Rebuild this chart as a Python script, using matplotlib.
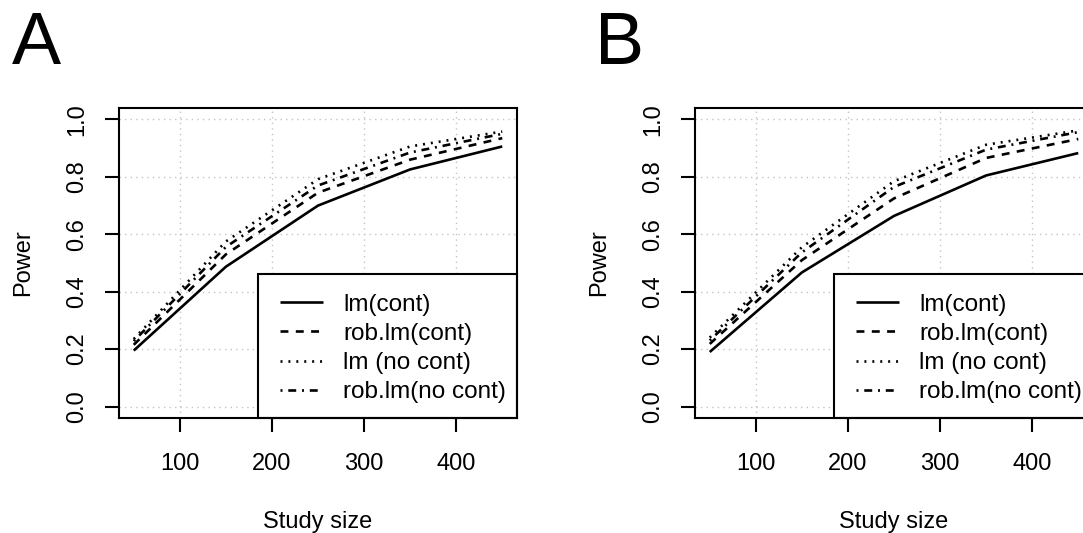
import matplotlib
matplotlib.use("Agg")
import matplotlib.pyplot as plt
from matplotlib.patches import Rectangle

plt.rcParams['font.family'] = ['Liberation Sans', 'DejaVu Sans']

study_size = [50, 150, 250, 350, 450]
series_labels = ["lm(cont)", "rob.lm(cont)", "lm (no cont)", "rob.lm(no cont)"]

# Panel A
a_lm_cont = [0.195, 0.487, 0.700, 0.826, 0.906]
a_rob_cont = [0.215, 0.530, 0.745, 0.860, 0.935]
a_lm_nocont = [0.235, 0.575, 0.792, 0.906, 0.958]
a_rob_nocont = [0.228, 0.556, 0.770, 0.885, 0.950]

# Panel B
b_lm_cont = [0.190, 0.467, 0.664, 0.805, 0.883]
b_rob_cont = [0.218, 0.510, 0.725, 0.866, 0.932]
b_lm_nocont = [0.240, 0.555, 0.785, 0.912, 0.962]
b_rob_nocont = [0.230, 0.537, 0.765, 0.895, 0.956]

x_ticks = [100, 200, 300, 400]
y_ticks = [0.0, 0.2, 0.4, 0.6, 0.8, 1.0]
y_ticklabels = ["0.0", "0.2", "0.4", "0.6", "0.8", "1.0"]
panel_letters = ["A", "B"]

W, H = 1083, 533
fig = plt.figure(figsize=(W / 100, H / 100), dpi=100)

LW = 1.9
styles = [
    dict(linestyle='-'),
    dict(linestyle=(0, (3.0, 2.8))),
    dict(linestyle=(0, (0.75, 2.25))),
    dict(linestyle=(0, (0.75, 2.2, 3.0, 2.2))),
]

FS = 17
LFS = 17.5
AX_W = 398
AX_H = 310


def panel(left_px, data, letter, letter_x):
    ax = fig.add_axes([left_px / W, (H - 418) / H, AX_W / W, AX_H / H])
    for vals, lab, st in zip(data, series_labels, styles):
        ax.plot(study_size, vals, color='black', lw=LW, label=lab,
                solid_capstyle='butt', dash_capstyle='butt', **st)
    ax.set_xlim(34, 466)
    ax.set_ylim(-0.04, 1.04)
    ax.set_xticks(x_ticks)
    ax.set_yticks(y_ticks)
    ax.set_yticklabels(y_ticklabels)
    ax.grid(True, color='#c4c4c4', linestyle=(0, (1, 3)), linewidth=1.0)
    ax.set_axisbelow(True)
    for s in ax.spines.values():
        s.set_linewidth(1.5)
        s.set_color('black')
        s.set_zorder(6)
    ax.tick_params(axis='both', length=10, width=1.5, labelsize=FS, color='black')
    ax.tick_params(axis='x', pad=15)
    ax.tick_params(axis='y', pad=12, labelrotation=90)
    for t in ax.get_yticklabels():
        t.set_va('center')
    ax.set_xlabel("Study size", fontsize=FS)
    ax.xaxis.set_label_coords(0.5, -0.30)
    ax.set_ylabel("Power", fontsize=FS)
    ax.yaxis.set_label_coords(-0.213, 0.5)
    # legend frame (bottom-right, R style)
    fx0 = 139 / AX_W
    fh = (418 - 274) / AX_H
    ax.add_patch(Rectangle((fx0, 0), 1 - fx0, fh, transform=ax.transAxes,
                           facecolor='white', edgecolor='black', lw=1.5,
                           zorder=4, clip_on=False))
    leg = ax.legend(loc='upper left', bbox_to_anchor=(161 / AX_W, (418 - 293.5) / AX_H),
                    borderaxespad=0, frameon=False, fontsize=LFS,
                    handlelength=1.77, handletextpad=0.82, borderpad=0,
                    labelspacing=0.30)
    leg.set_zorder(5)
    fig.text(letter_x / W, (H - 64) / H, letter, fontsize=53, ha='left', va='baseline')
    return ax


panel(119, [a_lm_cont, a_rob_cont, a_lm_nocont, a_rob_nocont], panel_letters[0], 12)
panel(695, [b_lm_cont, b_rob_cont, b_lm_nocont, b_rob_nocont], panel_letters[1], 595)

fig.savefig("out.png", dpi=100)
